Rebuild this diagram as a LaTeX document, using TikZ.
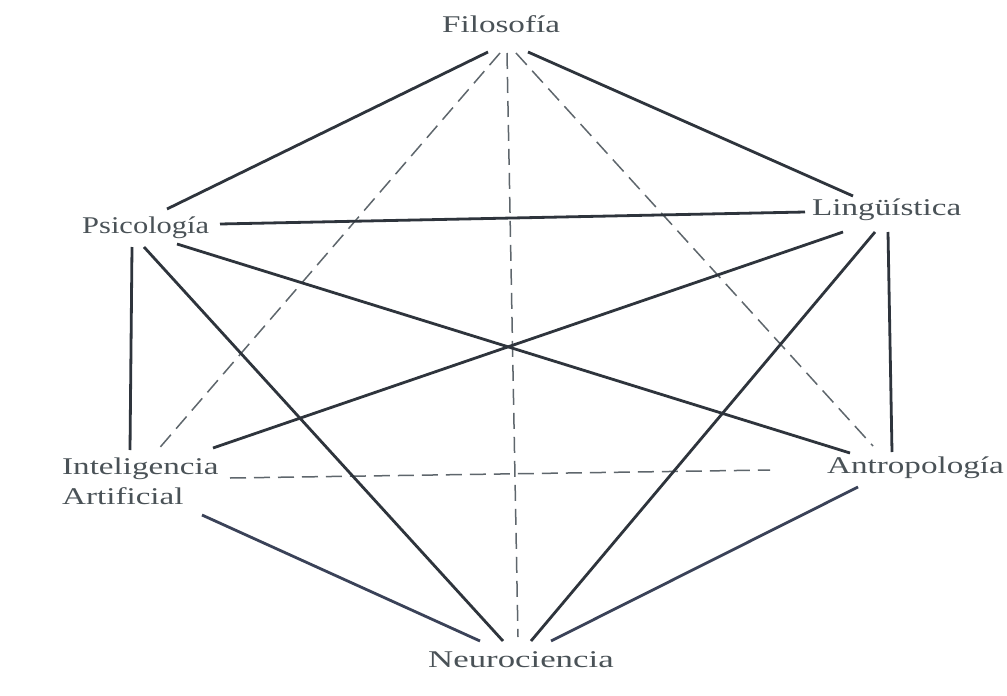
\documentclass[tikz,border=0pt]{standalone}
\usepackage{fontspec}
\setmainfont{Liberation Serif}[FakeStretch=1.38]
\newfontfamily\narrowrm{Liberation Serif}[FakeStretch=1.27]
\newfontfamily\widerm{Liberation Serif}[FakeStretch=1.45]
\definecolor{txtc}{HTML}{4A5257}
\definecolor{linec}{HTML}{2E343C}
\definecolor{linecb}{HTML}{3A4258}
\definecolor{dashc}{HTML}{5E666C}
\begin{document}
\begin{tikzpicture}[x=1pt,y=-1pt,
  lbl/.style={font=\fontsize{24}{30}\selectfont, text=txtc, inner sep=0pt, anchor=base west},
  solidln/.style={draw=linec, line width=2.8pt},
  solidlnb/.style={draw=linecb, line width=2.8pt},
  dashln/.style={draw=dashc, line width=1.5pt, dash pattern=on 16pt off 8pt}]
\useasboundingbox (0,0) rectangle (1007,696);
\fill[white] (0,0) rectangle (1007,696);
% labels
\node[lbl] (fil) at (442,32) {Filosofía};
\node[lbl, font=\fontsize{24}{30}\narrowrm] (psi) at (82,233) {Psicología};
\node[lbl] (lin) at (812,215) {Lingüística};
\node[lbl, anchor=north west, align=left] (ia) at (62,458) {Inteligencia\\Artificial};
\node[lbl] (ant) at (827,473) {Antropología};
\node[lbl, font=\fontsize{24}{30}\widerm] (neu) at (428,667) {Neurociencia};
% line end points
\coordinate (filA) at (488,52);
\coordinate (filB) at (500,53);
\coordinate (filC) at (507,53);
\coordinate (filD) at (516,53);
\coordinate (filE) at (528,52);
\coordinate (psiN) at (167,209);
\coordinate (psiE) at (220,224);
\coordinate (psiSE) at (177,244);
\coordinate (psiS) at (132,247);
\coordinate (psiSS) at (144,247);
\coordinate (linN) at (853,196);
\coordinate (linW) at (805,212);
\coordinate (linSW) at (843,232);
\coordinate (linSS) at (875,232);
\coordinate (linS) at (888,232);
\coordinate (iaN) at (130,450);
\coordinate (iaNE) at (156,452);
\coordinate (iaE) at (213,448);
\coordinate (iaD) at (230,478);
\coordinate (iaS) at (202,515);
\coordinate (antN) at (892,452);
\coordinate (antNW) at (850,453);
\coordinate (antNN) at (873,446);
\coordinate (antW) at (770,470);
\coordinate (antS) at (858,487);
\coordinate (neuA) at (480,641);
\coordinate (neuB) at (503,641);
\coordinate (neuC) at (518,637);
\coordinate (neuD) at (531,641);
\coordinate (neuE) at (551,641);
% dashed connectors
\draw[dashln] (filB) -- (iaNE);
\draw[dashln] (filC) -- (neuC);
\draw[dashln] (filD) -- (antNN);
\draw[dashln] (iaD) -- (antW);
% solid connectors
\draw[solidln] (filA) -- (psiN);
\draw[solidln] (filE) -- (linN);
\draw[solidln] (psiE) -- (linW);
\draw[solidln] (psiSE) -- (antNW);
\draw[solidln] (psiS) -- (iaN);
\draw[solidln] (psiSS) -- (neuB);
\draw[solidln] (linSW) -- (iaE);
\draw[solidln] (linSS) -- (neuD);
\draw[solidln] (linS) -- (antN);
\draw[solidlnb] (iaS) -- (neuA);
\draw[solidlnb] (antS) -- (neuE);
\end{tikzpicture}
\end{document}
